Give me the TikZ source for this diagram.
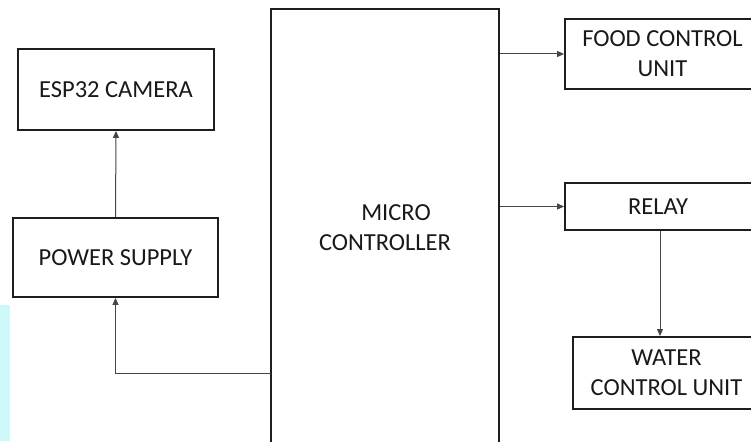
\documentclass[tikz,border=0pt]{standalone}
\usepackage{fontspec}
\setmainfont{Carlito}
\usetikzlibrary{arrows.meta}
\definecolor{boxline}{RGB}{30,30,30}
\definecolor{wireline}{RGB}{70,70,70}
\definecolor{txt}{RGB}{25,25,25}
\definecolor{strip}{RGB}{205,248,250}
\begin{document}
\begin{tikzpicture}[x=1pt,y=-1pt,
  blockbox/.style={draw=boxline, line width=1.8pt, fill=white, inner sep=0pt,
    align=center, text=txt, font=\fontsize{24.5}{30}\selectfont},
  wire/.style={draw=wireline, line width=1pt, -{Triangle[length=7pt,width=6pt]}}]
\clip (0,0) rectangle (751,441);
\fill[white] (0,0) rectangle (751,441);
\fill[strip] (0,305) rectangle (10,441);
\node[blockbox, minimum width=196pt, minimum height=81pt] (esp) at (116,89.5) {ESP32 CAMERA};
\node[blockbox, minimum width=205pt, minimum height=79pt] (ps) at (115.5,257.5) {POWER SUPPLY};
\node[blockbox, minimum width=228pt, minimum height=438pt] (mc) at (385,228) {\hspace*{22pt}MICRO\\CONTROLLER};
\node[blockbox, minimum width=195pt, minimum height=70pt] (food) at (662.5,54) {FOOD CONTROL\\UNIT};
\node[blockbox, minimum width=195pt, minimum height=47pt] (relay) at (662.5,206.5) {\hspace*{-9pt}RELAY};
\node[blockbox, minimum width=187pt, minimum height=72pt] (water) at (666.5,373) {WATER\\CONTROL UNIT};
\coordinate (tap) at (271,373);
\draw[wire] (ps.north) -- (esp.south);
\draw[wire] (tap) -| (ps.south);
\draw[wire] (mc.east |- food.west) -- (food.west);
\draw[wire] (mc.east |- relay.west) -- (relay.west);
\draw[wire] ([xshift=-2.5pt]relay.south) -- ([xshift=-2.5pt]relay.south |- water.north);
\end{tikzpicture}
\end{document}
